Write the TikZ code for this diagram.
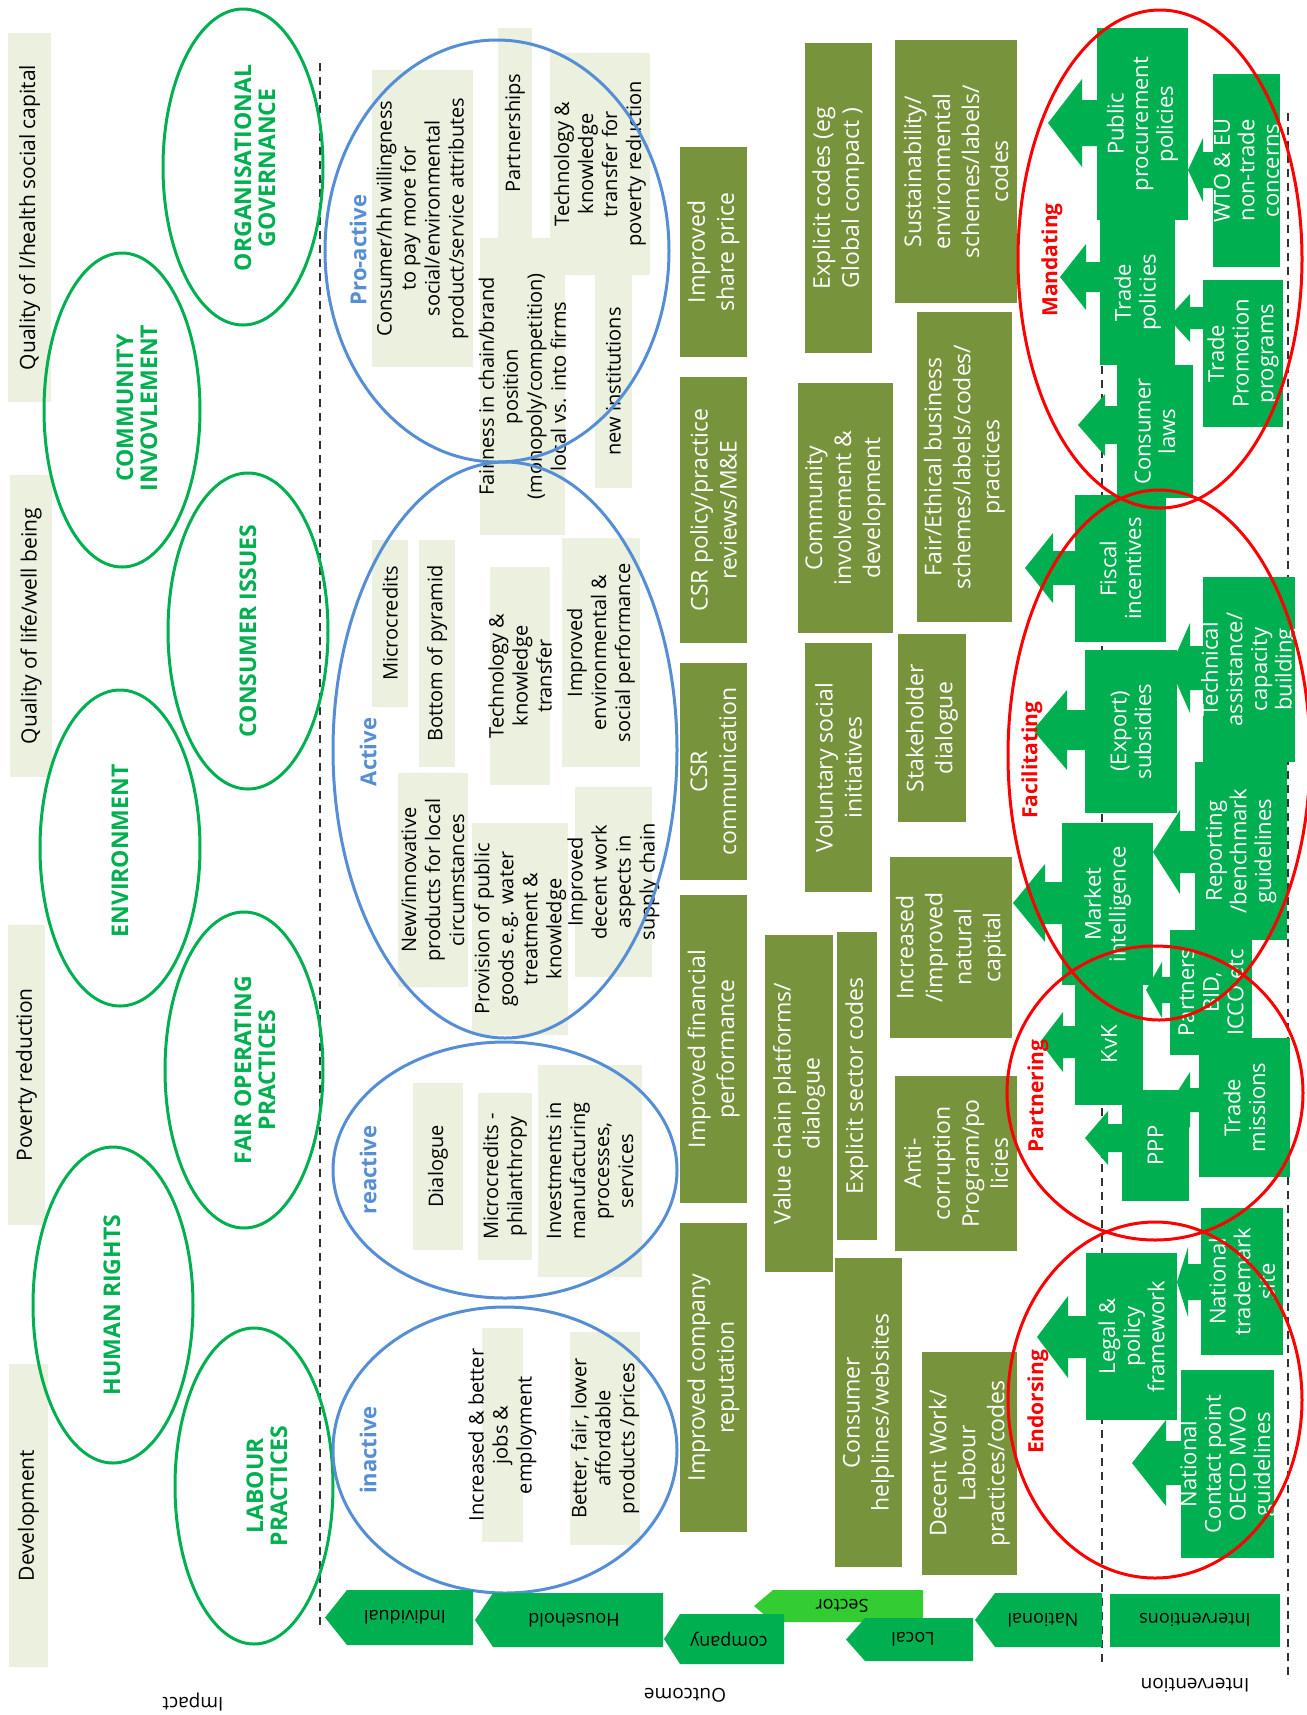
\documentclass[tikz,border=0pt]{standalone}
\usepackage{fontspec}
\setmainfont{Open Sans}
\usetikzlibrary{calc}

\definecolor{beige}{HTML}{EBF1DE}
\definecolor{olive}{HTML}{77933C}
\definecolor{isogreen}{HTML}{00B050}
\definecolor{sectorgreen}{HTML}{33CC33}
\definecolor{bluec}{HTML}{558ED5}
\definecolor{redc}{HTML}{FF0000}

\newcommand\fsz[2]{\fontsize{#1}{#2}\selectfont}

% filled box (x1,y1)-(x2,y2) with rotated text centred in it
\newcommand\rbox[8]{%
  \fill[#2] (#4,#5) rectangle (#6,#7);
  \node[#3, rotate=90] (#1) at ({(#4+#6)/2},{(#5+#7)/2}) {#8};}

% left-pointing block arrow: tip x, tip y, head base x, head half height, shaft half height, shaft end x
\newcommand\barrow[6]{%
  \fill[isogreen] (#1,#2) -- (#3,{#2-#4}) -- (#3,{#2-#5}) -- (#6,{#2-#5})
    -- (#6,{#2+#5}) -- (#3,{#2+#5}) -- (#3,{#2+#4}) -- cycle;}

% level tag: name, colour, tip x, head base x, right x, top y, bottom y, text, text x
\newcommand\lvl[9]{%
  \fill[#2] (#3,{(#6+#7)/2}) -- (#4,#6) -- (#5,#6) -- (#5,#7) -- (#4,#7) -- cycle;
  \node[lvltxt, rotate=180] (#1) at (#9,{(#6+#7)/2}) {#8};}

\tikzset{
  imptxt/.style={font=\fsz{10.5}{12}, text=black, inner sep=0pt},
  beigetxt/.style={font=\fsz{10}{12}, align=center, text=black, inner sep=0pt},
  olivetxt/.style={font=\fsz{11.5}{14.5}, align=center, text=white, inner sep=0pt},
  greentxt/.style={font=\fsz{11}{12.3}, align=center, text=white, inner sep=0pt},
  gell/.style={draw=isogreen, line width=1.5pt},
  gelltxt/.style={font=\bfseries\fsz{11.5}{12}, align=center, text=isogreen, inner sep=0pt},
  bell/.style={draw=bluec, line width=1.5pt},
  belltxt/.style={font=\bfseries\fsz{11}{13}, text=bluec, inner sep=0pt},
  rell/.style={draw=redc, line width=1.5pt},
  relltxt/.style={font=\bfseries\fsz{10.5}{13}, text=redc, inner sep=0pt},
  dashline/.style={draw=black!80, line width=1pt, dash pattern=on 4pt off 3pt},
  lvltxt/.style={font=\fsz{9}{10}, text=black, inner sep=0pt},
  axtxt/.style={font=\fsz{9.5}{11}, text=black, inner sep=0pt},
}

\begin{document}
\begin{tikzpicture}[x=0.5pt,y=-0.5pt]
\useasboundingbox (0,0) rectangle (1307,1715);

% ---------- separators ----------
\coordinate (s1a) at (320,63);   \coordinate (s1b) at (320,1630);
\coordinate (s2a) at (1102,100); \coordinate (s2b) at (1102,1662);
\coordinate (s3a) at (1288,113); \coordinate (s3b) at (1288,1675);
\draw[dashline] (s1a) -- (s1b);
\draw[dashline] (s2a) -- (s2b);
\draw[dashline] (s3a) -- (s3b);

% ---------- impact column ----------
\rbox{qsoc}{beige}{imptxt}{8}{33}{51}{402}{Quality of l/health social capital}
\rbox{qlife}{beige}{imptxt}{10}{475}{52}{777}{Quality of life/well being}
\rbox{pov}{beige}{imptxt}{8}{925}{45}{1225}{Poverty reduction}
\rbox{dev}{beige}{imptxt}{9}{1364}{48}{1667}{Development}

% ---------- core subjects ----------
\draw[gell] (243,167) ellipse [x radius=80, y radius=158];
\node[gelltxt, rotate=90] (gov) at (255,168) {ORGANISATIONAL\\GOVERNANCE};
\draw[gell] (122,410) ellipse [x radius=78, y radius=157];
\node[gelltxt, rotate=90] (comm) at (137,408) {COMMUNITY\\INVOVLEMENT};
\draw[gell] (248,631) ellipse [x radius=80, y radius=158];
\node[gelltxt, rotate=90] (cons) at (248,631) {CONSUMER ISSUES};
\draw[gell] (120,848) ellipse [x radius=80, y radius=158];
\node[gelltxt, rotate=90] (env) at (120,851) {ENVIRONMENT};
\draw[gell] (244,1070) ellipse [x radius=79, y radius=158];
\node[gelltxt, rotate=90] (fair) at (255,1070) {FAIR OPERATING\\PRACTICES};
\draw[gell] (113,1305) ellipse [x radius=80, y radius=158];
\node[gelltxt, rotate=90] (hr) at (112,1305) {HUMAN RIGHTS};
\draw[gell] (254,1486) ellipse [x radius=79, y radius=158];
\node[gelltxt, rotate=90] (lab) at (267,1486) {LABOUR\\PRACTICES};

% ---------- outcome statements ----------
\rbox{pa1}{beige}{beigetxt}{372}{70}{473}{367}{Consumer/hh willingness\\to pay more for\\social/environmental\\product/service attributes}
\rbox{pa2}{beige}{beigetxt}{498}{28}{532}{238}{Partnerships}
\rbox{pa3}{beige}{beigetxt}{550}{53}{650}{275}{Technology \&\\knowledge\\transfer for\\poverty reduction}
\rbox{pa4}{beige}{beigetxt}{480}{238}{565}{535}{Fairness in chain/brand\\position\\(monopoly/competition)\\local vs. into firms}
\rbox{pa5}{beige}{beigetxt}{595}{275}{632}{488}{new institutions}

\rbox{ac1}{beige}{beigetxt}{372}{540}{408}{707}{Microcredits}
\rbox{ac2}{beige}{beigetxt}{419}{540}{455}{767}{Bottom of pyramid}
\rbox{ac3}{beige}{beigetxt}{398}{773}{468}{987}{New/innovative\\products for local\\circumstances}
\rbox{ac4}{beige}{beigetxt}{490}{567}{550}{785}{Technology \&\\knowledge\\transfer}
\rbox{ac5}{beige}{beigetxt}{562}{538}{640}{767}{Improved\\environmental \&\\social performance}
\rbox{ac6}{beige}{beigetxt}{472}{823}{568}{1035}{Provision of public\\goods e.g. water\\treatment \&\\knowledge}
\rbox{ac7}{beige}{beigetxt}{575}{787}{652}{977}{Improved\\decent work\\aspects in\\supply chain}

\rbox{re1}{beige}{beigetxt}{413}{1083}{463}{1250}{Dialogue}
\rbox{re2}{beige}{beigetxt}{478}{1093}{532}{1260}{Microcredits -\\philanthropy}
\rbox{re3}{beige}{beigetxt}{538}{1065}{642}{1277}{Investments in\\manufacturing\\processes,\\services}

\rbox{in1}{beige}{beigetxt}{482}{1328}{523}{1542}{Increased \& better\\jobs \&\\employment}
\rbox{in2}{beige}{beigetxt}{570}{1332}{640}{1545}{Better, fair, lower\\affordable\\products /prices}

% ---------- engagement levels ----------
\draw[bell] (497,251) ellipse [x radius=172, y radius=211];
\draw[bell] (505,750) ellipse [x radius=172, y radius=288];
\draw[bell] (505,1170) ellipse [x radius=172, y radius=128];
\draw[bell] (505,1450) ellipse [x radius=172, y radius=143];
\node[belltxt, rotate=90] (proactive) at (358,250) {Pro-active};
\node[belltxt, rotate=90] (active) at (368,752) {Active};
\node[belltxt, rotate=90] (reactive) at (368,1170) {reactive};
\node[belltxt, rotate=90] (inactive) at (368,1450) {inactive};

% ---------- company / sector outcomes ----------
\rbox{o1}{olive}{olivetxt}{680}{147}{747}{357}{Improved\\share price}
\rbox{o2}{olive}{olivetxt}{680}{377}{747}{643}{CSR policy/practice\\reviews/M\&E}
\rbox{o3}{olive}{olivetxt}{680}{663}{747}{880}{CSR\\communication}
\rbox{o4}{olive}{olivetxt}{680}{895}{747}{1203}{Improved financial\\performance}
\rbox{o5}{olive}{olivetxt}{680}{1223}{747}{1532}{Improved company\\reputation}

\rbox{o6}{olive}{olivetxt}{805}{43}{872}{353}{Explicit codes (eg\\Global compact )}
\rbox{o7}{olive}{olivetxt}{798}{383}{893}{633}{Community\\involvement \&\\development}
\rbox{o8}{olive}{olivetxt}{805}{643}{872}{892}{Voluntary social\\initiatives}
\rbox{o9}{olive}{olivetxt}{765}{935}{833}{1272}{Value chain platforms/\\dialogue}
\rbox{o10}{olive}{olivetxt}{837}{932}{877}{1240}{Explicit sector codes}
\rbox{o11}{olive}{olivetxt}{835}{1258}{902}{1567}{Consumer\\helplines/websites}

\rbox{o12}{olive}{olivetxt}{895}{40}{1017}{303}{Sustainability/\\environmental\\schemes/labels/\\codes}
\rbox{o13}{olive}{olivetxt}{917}{312}{1012}{622}{Fair/Ethical business\\schemes/labels/codes/\\practices}
\rbox{o14}{olive}{olivetxt}{898}{634}{966}{822}{Stakeholder\\dialogue}
\rbox{o15}{olive}{olivetxt}{890}{857}{1012}{1038}{Increased\\/improved\\natural\\capital}
\rbox{o16}{olive}{olivetxt}{895}{1076}{1017}{1251}{Anti-\\corruption\\Program/po\\licies}
\rbox{o17}{olive}{olivetxt}{922}{1352}{1017}{1575}{Decent Work/\\Labour\\practices/codes}

% ---------- interventions: arrow heads ----------
\barrow{1048}{123}{1082}{44}{23}{1099}
\barrow{1060}{277}{1086}{33}{15}{1102}
\barrow{1078}{425}{1105}{31}{19}{1119}
\barrow{1025}{568}{1053}{35}{17}{1077}
\barrow{1033}{730}{1067}{40}{20}{1087}
\barrow{1013}{903}{1045}{39}{21}{1064}
\barrow{1040}{1042}{1063}{30}{16}{1077}
\barrow{1085}{1138}{1108}{27}{14}{1124}
\barrow{1037}{1337}{1068}{41}{21}{1088}
\barrow{1132}{1463}{1166}{43}{22}{1183}
\barrow{1188}{170}{1203}{32}{18}{1215}
\barrow{1168}{318}{1190}{24}{11}{1205}
\barrow{1170}{668}{1190}{45}{22}{1205}
\barrow{1153}{852}{1180}{42}{21}{1197}
\barrow{1146}{990}{1162}{28}{13}{1172}
\barrow{1172}{1100}{1190}{28}{12}{1201}
\barrow{1177}{1282}{1188}{35}{18}{1203}

% ---------- interventions: boxes ----------
\rbox{pp}{isogreen}{greentxt}{1097}{28}{1188}{220}{Public\\procurement\\policies}
\rbox{wto}{isogreen}{greentxt}{1213}{74}{1280}{267}{WTO \& EU\\non-trade\\concerns}
\rbox{tpol}{isogreen}{greentxt}{1100}{220}{1175}{365}{Trade\\policies}
\rbox{tprom}{isogreen}{greentxt}{1203}{280}{1283}{427}{Trade\\Promotion\\programs}
\rbox{claw}{isogreen}{greentxt}{1117}{365}{1193}{498}{Consumer\\laws}
\rbox{fisc}{isogreen}{greentxt}{1075}{495}{1166}{642}{Fiscal\\incentives}
\rbox{tech}{isogreen}{greentxt}{1203}{577}{1295}{762}{Technical\\assistance/\\capacity\\building}
\rbox{exps}{isogreen}{greentxt}{1085}{650}{1177}{813}{(Export)\\subsidies}
\rbox{rep}{isogreen}{greentxt}{1195}{762}{1287}{940}{Reporting\\/benchmark\\guidelines}
\rbox{mkt}{isogreen}{greentxt}{1062}{823}{1153}{985}{Market\\intelligence}
\rbox{kvk}{isogreen}{greentxt}{1075}{983}{1143}{1105}{KvK}
\rbox{bid}{isogreen}{greentxt}{1170}{930}{1252}{1055}{Partners\\BID,\\ICCO etc}
\rbox{ppp}{isogreen}{greentxt}{1122}{1090}{1189}{1201}{PPP}
\rbox{tmis}{isogreen}{greentxt}{1199}{1038}{1290}{1177}{Trade\\missions}
\rbox{legal}{isogreen}{greentxt}{1086}{1253}{1177}{1420}{Legal \&\\policy\\framework}
\rbox{ntm}{isogreen}{greentxt}{1201}{1208}{1283}{1355}{National\\trademark\\site}
\rbox{ncp}{isogreen}{greentxt}{1181}{1370}{1274}{1558}{National\\Contact point\\OECD MVO\\guidelines}

% ---------- intervention modes ----------
\draw[rell] (1160,259) ellipse [x radius=142, y radius=249];
\draw[rell] (1159,755) ellipse [x radius=151, y radius=265];
\draw[rell] (1155,1093) ellipse [x radius=148, y radius=147];
\draw[rell] (1155,1400) ellipse [x radius=147, y radius=178];
\node[relltxt, rotate=90] (mand) at (1052,260) {Mandating};
\node[relltxt, rotate=90] (facil) at (1032,760) {Facilitating};
\node[relltxt, rotate=90] (partn) at (1038,1096) {Partnering};
\node[relltxt, rotate=90] (endor) at (1038,1402) {Endorsing};

% ---------- levels ----------
\lvl{indiv}{isogreen}{325}{347}{473}{1590}{1645}{Individual}{405}
\lvl{house}{isogreen}{475}{493}{663}{1593}{1647}{Household}{574}
\lvl{sector}{sectorgreen}{754}{773}{923}{1590}{1622}{Sector}{842}
\lvl{comp}{isogreen}{664}{680}{784}{1614}{1664}{company}{729}
\lvl{local}{isogreen}{846}{865}{973}{1618}{1661}{Local}{913}
\lvl{natl}{isogreen}{975}{995}{1102}{1593}{1647}{National}{1043}
\fill[isogreen] (1110,1594) rectangle (1280,1647);
\node[lvltxt, rotate=180] (intv) at (1195,1620) {Interventions};

% ---------- axis captions ----------
\node[axtxt, rotate=180] (impact) at (193,1702) {Impact};
\node[axtxt, rotate=180] (outcome) at (685,1695) {Outcome};
\node[axtxt, rotate=180] (intervention) at (1195,1685) {Intervention};
\end{tikzpicture}
\end{document}
